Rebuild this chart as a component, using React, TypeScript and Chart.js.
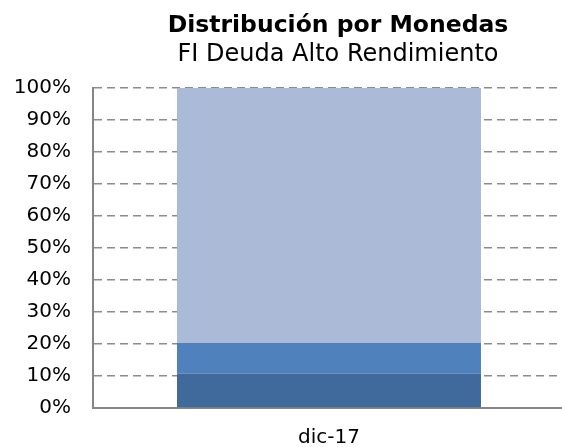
import React, { useEffect, useRef } from "react";
import { Chart, registerables } from "chart.js";

Chart.register(...registerables);

const categories = ["dic-17"];
const seriesNames = ["Divisa 1", "Divisa 2", "Divisa 3"];
const seriesBottom = [10.7];
const seriesMiddle = [9.6];
const seriesTop = [79.7];
const seriesColors = ["#406A9B", "#4F81BD", "#AABAD7"];
const titleText = "Distribución por Monedas";
const subtitleText = "FI Deuda Alto Rendimiento";

export default function App() {
  const ref = useRef<HTMLCanvasElement | null>(null);
  useEffect(() => {
    if (!ref.current) return;
    const font = "'DejaVu Sans', Verdana, sans-serif";
    const chart = new Chart(ref.current, {
      type: "bar",
      data: {
        labels: categories,
        datasets: [seriesBottom, seriesMiddle, seriesTop].map((d, i) => ({
          label: seriesNames[i],
          data: d,
          backgroundColor: seriesColors[i],
          borderWidth: 0,
          categoryPercentage: 1,
          barPercentage: 0.644,
          yAxisID: "y",
        })),
      },
      options: {
        responsive: false,
        animation: false,
        devicePixelRatio: 1,
        layout: { padding: 0 },
        plugins: {
          legend: { display: false },
          tooltip: { enabled: false },
          title: {
            display: true,
            text: titleText,
            color: "#000",
            font: { family: font, size: 23.5, weight: "bold", lineHeight: 1.2 },
            padding: { top: 12, bottom: 0 },
          },
          subtitle: {
            display: true,
            text: subtitleText,
            color: "#000",
            font: { family: font, size: 24, weight: "normal", lineHeight: 1.2 },
            padding: { top: 0, bottom: 19 },
          },
        },
        scales: {
          x: {
            stacked: true,
            grid: { display: false, drawTicks: false },
            border: { display: true, color: "#868686", width: 2 },
            ticks: { color: "#000", font: { family: font, size: 20 }, padding: 18 },
            afterFit: (s: any) => {
              s.height = 39;
            },
          },
          y: {
            stacked: true,
            min: 0,
            max: 100,
            ticks: {
              stepSize: 10,
              color: "#000",
              font: { family: font, size: 20 },
              padding: 22,
              callback: (v: any) => v + "%",
            },
            grid: { color: "#8c8c8c", lineWidth: 1.5, drawTicks: false },
            border: { display: true, color: "#868686", width: 2, dash: [8, 5] },
            afterFit: (s: any) => {
              s.width = 93;
            },
          },
          yRight: {
            type: "linear",
            position: "right",
            min: 0,
            max: 100,
            grid: { display: false, drawTicks: false },
            border: { display: false },
            ticks: { display: false },
            afterFit: (s: any) => {
              s.width = 111;
            },
          },
        },
      },
    });
    return () => chart.destroy();
  }, []);
  return (
    <div style={{ position: "fixed", left: 0, top: 0, width: 562, height: 447, overflow: "hidden", background: "#fff" }}>
      <canvas ref={ref} width={676} height={447} style={{ display: "block" }} />
    </div>
  );
}
